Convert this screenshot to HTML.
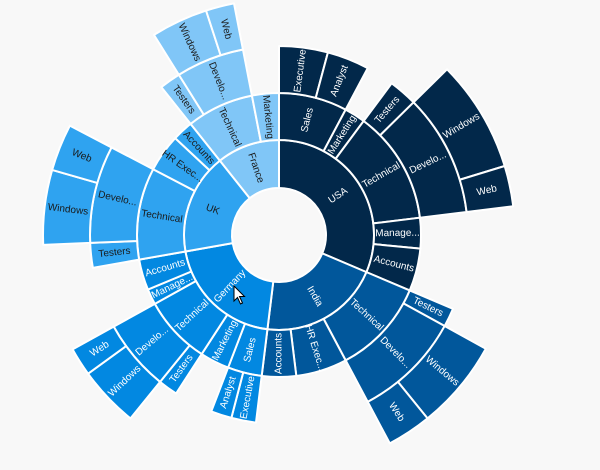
<!DOCTYPE html>
<html><head><meta charset="utf-8"><style>
html,body{margin:0;padding:0;background:#f8f8f8;}
svg{display:block;}
text{font-family:"Liberation Sans",sans-serif;font-size:10px;text-anchor:middle;dominant-baseline:central;}
.w{fill:#fff}.d{fill:#1a1a1a}
</style></head><body>
<svg id="s" width="600" height="470" viewBox="0 0 600 470">
<rect width="600" height="470" fill="#f8f8f8"/>
<g id="arcs" transform="translate(279,235)"></g>
<g transform="translate(279,235)">
<text class="w" transform="rotate(56.5) translate(0,-71) rotate(-90)">USA</text>
<text class="w" transform="rotate(150) translate(0,-71) rotate(-90)">India</text>
<text class="w" transform="rotate(223.5) translate(0,-71) rotate(90)">Germany</text>
<text class="d" transform="rotate(290.75) translate(0,-71) rotate(90)">UK</text>
<text class="d" transform="rotate(340.75) translate(0,-71) rotate(90)">France</text>
<text class="w" transform="rotate(14) translate(0,-118.5) rotate(-90)">Sales</text>
<text class="w" transform="rotate(32.3) translate(0,-118.5) rotate(-90)">Marketing</text>
<text class="w" transform="rotate(59.8) translate(0,-118.5) rotate(-90)">Technical</text>
<text class="w" transform="rotate(89.25) translate(0,-118.5) rotate(-90)">Manage...</text>
<text class="w" transform="rotate(104.25) translate(0,-118.5) rotate(-90)">Accounts</text>
<text class="w" transform="rotate(7.5) translate(0,-165.5) rotate(-90)">Executive</text>
<text class="w" transform="rotate(21.5) translate(0,-165.5) rotate(-90)">Analyst</text>
<text class="w" transform="rotate(41) translate(0,-165.5) rotate(-90)">Testers</text>
<text class="w" transform="rotate(64.2) translate(0,-165.5) rotate(-90)">Develo...</text>
<text class="w" transform="rotate(59.2) translate(0,-212.5) rotate(-90)">Windows</text>
<text class="w" transform="rotate(78) translate(0,-212.5) rotate(-90)">Web</text>
<text class="w" transform="rotate(132.5) translate(0,-118.5) rotate(-90)">Technical</text>
<text class="w" transform="rotate(162.5) translate(0,-118.5) rotate(-90)">HR Exec...</text>
<text class="w" transform="rotate(180) translate(0,-118.5) rotate(90)">Accounts</text>
<text class="w" transform="rotate(115.9) translate(0,-165.5) rotate(-90)">Testers</text>
<text class="w" transform="rotate(135.4) translate(0,-165.5) rotate(-90)">Develo...</text>
<text class="w" transform="rotate(129.9) translate(0,-212.5) rotate(-90)">Windows</text>
<text class="w" transform="rotate(146.5) translate(0,-212.5) rotate(-90)">Web</text>
<text class="w" transform="rotate(194) translate(0,-118.5) rotate(90)">Sales</text>
<text class="w" transform="rotate(207) translate(0,-118.5) rotate(90)">Marketing</text>
<text class="w" transform="rotate(227) translate(0,-118.5) rotate(90)">Technical</text>
<text class="w" transform="rotate(244.2) translate(0,-118.5) rotate(90)">Manage...</text>
<text class="w" transform="rotate(253.7) translate(0,-118.5) rotate(90)">Accounts</text>
<text class="w" transform="rotate(190.8) translate(0,-165.5) rotate(90)">Executive</text>
<text class="w" transform="rotate(197.8) translate(0,-165.5) rotate(90)">Analyst</text>
<text class="w" transform="rotate(216) translate(0,-165.5) rotate(90)">Testers</text>
<text class="w" transform="rotate(230) translate(0,-165.5) rotate(90)">Develo...</text>
<text class="w" transform="rotate(226.5) translate(0,-212.5) rotate(90)">Windows</text>
<text class="w" transform="rotate(237.5) translate(0,-212.5) rotate(90)">Web</text>
<text class="d" transform="rotate(278.8) translate(0,-118.5) rotate(90)">Technical</text>
<text class="d" transform="rotate(305.3) translate(0,-118.5) rotate(90)">HR Exec...</text>
<text class="d" transform="rotate(317.25) translate(0,-118.5) rotate(90)">Accounts</text>
<text class="d" transform="rotate(263.8) translate(0,-165.5) rotate(90)">Testers</text>
<text class="d" transform="rotate(282.6) translate(0,-165.5) rotate(90)">Develo...</text>
<text class="d" transform="rotate(276.8) translate(0,-212.5) rotate(90)">Windows</text>
<text class="d" transform="rotate(291.8) translate(0,-212.5) rotate(90)">Web</text>
<text class="d" transform="rotate(335.25) translate(0,-118.5) rotate(90)">Technical</text>
<text class="d" transform="rotate(354.5) translate(0,-118.5) rotate(90)">Marketing</text>
<text class="d" transform="rotate(324.75) translate(0,-165.5) rotate(90)">Testers</text>
<text class="d" transform="rotate(338.5) translate(0,-165.5) rotate(90)">Develo...</text>
<text class="d" transform="rotate(335) translate(0,-212.5) rotate(90)">Windows</text>
<text class="d" transform="rotate(345.5) translate(0,-212.5) rotate(90)">Web</text>
</g>
<path d="M234,286 L234,301 L237.5,297.5 L240.5,304 L242.5,303 L239.5,296.5 L244.5,296.5 Z" fill="#fff" stroke="#000" stroke-width="1"/>
</svg>
<script>
var R=[47,95,142,189,236];
var C={U:"#02284a",I:"#01579b",G:"#0288e1",K:"#2fa3f0",F:"#80c6f7"};
var D=[
["U",0,113,1],["I",113,187,1],["G",187,260,1],["K",260,321.5,1],["F",321.5,360,1],
["U",0,28,2],["U",28,36.6,2],["U",36.6,83,2],["U",83,95.5,2],["U",95.5,113,2],
["U",0,15,3],["U",15,28,3],["U",36.6,45.4,3],["U",45.4,83,3],
["U",45.4,73,4],["U",73,83,4],
["I",113,152,2],["I",152,173,2],["I",173,187,2],
["I",113,118.8,3],["I",118.8,152,3],["I",118.8,141,4],["I",141,152,4],
["G",187,201,2],["G",201,213,2],["G",213,241,2],["G",241,247.4,2],["G",247.4,260,2],
["G",187,194.6,3],["G",194.6,201,3],["G",213,219,3],["G",219,241,3],
["G",219,234,4],["G",234,241,4],
["K",260,297.6,2],["K",297.6,313,2],["K",313,321.5,2],
["K",260,267.6,3],["K",267.6,297.6,3],["K",267.6,286,4],["K",286,297.6,4],
["F",321.5,349,2],["F",349,360,2],
["F",321.5,328,3],["F",328,349,3],["F",328,342,4],["F",342,349,4]
];
function p(r,a){a=a*Math.PI/180;return (r*Math.sin(a)).toFixed(2)+","+(-r*Math.cos(a)).toFixed(2);}
var g=document.getElementById("arcs"),h="";
D.forEach(function(d){
 var r0=R[d[3]-1],r1=R[d[3]],a0=d[1],a1=d[2]-0.0001,lg=(a1-a0)>180?1:0;
 var s="M"+p(r0,a0)+"L"+p(r1,a0)+"A"+r1+","+r1+" 0 "+lg+" 1 "+p(r1,a1)+"L"+p(r0,a1)+"A"+r0+","+r0+" 0 "+lg+" 0 "+p(r0,a0)+"Z";
 h+='<path d="'+s+'" fill="'+C[d[0]]+'" stroke="#fff" stroke-width="2" stroke-linejoin="round"/>';
});
g.innerHTML=h;
</script>
</body></html>
